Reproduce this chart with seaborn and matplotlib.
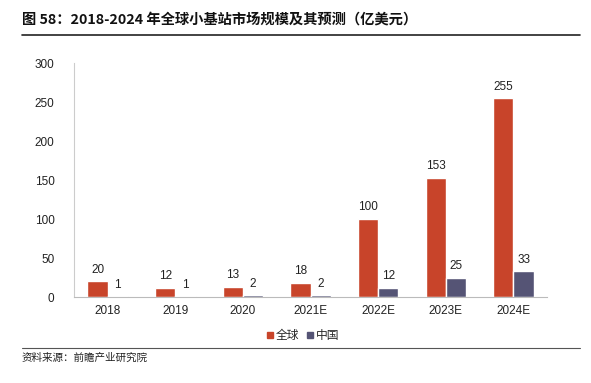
import matplotlib
matplotlib.use("Agg")
from matplotlib import pyplot as plt
from matplotlib.lines import Line2D
import pandas as pd
import seaborn as sns
import numpy as np

# data
years = ["2018", "2019", "2020", "2021E", "2022E", "2023E", "2024E"]
global_vals = [20, 12, 13, 18, 100, 153, 255]
china_vals = [1, 1, 2, 2, 12, 25, 33]
series = ["全球", "中国"]
colors = ["#C8442A", "#555475"]

df = pd.DataFrame({
    "year": years * 2,
    "value": global_vals + china_vals,
    "series": [series[0]] * len(years) + [series[1]] * len(years),
})

sns.set_style("white")
plt.rcParams["font.family"] = ["Liberation Sans", "Noto Sans CJK SC", "DejaVu Sans"]

fig = plt.figure(figsize=(5.91, 3.83), dpi=100)
ax = fig.add_axes([0.125, 0.2245, 0.801, 0.611])

sns.barplot(data=df, x="year", y="value", hue="series", palette=colors,
            width=0.6, gap=0, saturation=1, legend=False, ax=ax)

for c in ax.containers:
    ax.bar_label(c, padding=4, fontsize=8.5, color="#222222")

ax.set_ylim(0, 300)
ax.set_yticks(np.arange(0, 301, 50))
ax.set_xlim(-0.5, len(years) - 0.5)
ax.set_xlabel("")
ax.set_ylabel("")
ax.tick_params(axis="both", labelsize=8.5, colors="#222222", length=0)
ax.tick_params(axis="y", pad=14)
ax.tick_params(axis="x", pad=6)
ax.set_xticks(np.arange(-0.5, len(years), 1), minor=True)
ax.tick_params(axis="x", which="minor", length=3, color="#BBBBBB")
for s in ["top", "right"]:
    ax.spines[s].set_visible(False)
ax.spines["left"].set_color("#CCCCCC")
ax.spines["bottom"].set_color("#BBBBBB")
ax.spines["left"].set_linewidth(0.8)
ax.spines["bottom"].set_linewidth(0.8)

handles = [Line2D([], [], marker="s", linestyle="", color=c, markersize=5)
           for c in colors]
fig.legend(handles, series, loc="center", bbox_to_anchor=(0.513, 0.122),
           ncol=2, frameon=False, fontsize=8.5, handlelength=0.6,
           handletextpad=0.2, columnspacing=0.6)

fig.text(0.037, 0.948, "图 58：2018-2024 年全球小基站市场规模及其预测（亿美元）",
         fontsize=10.3, fontweight="bold", family=["Noto Sans CJK SC"],
         va="center", ha="left", color="#111111")
fig.add_artist(Line2D([0.037, 0.981], [0.909, 0.909], color="#222222", lw=1.2))
fig.add_artist(Line2D([0.037, 0.981], [0.091, 0.091], color="#555555", lw=0.8))
fig.text(0.037, 0.067, "资料来源：前瞻产业研究院", fontsize=7.6,
         family=["Noto Sans CJK SC"], va="center", ha="left", color="#222222")

fig.savefig("out.png", dpi=100)
